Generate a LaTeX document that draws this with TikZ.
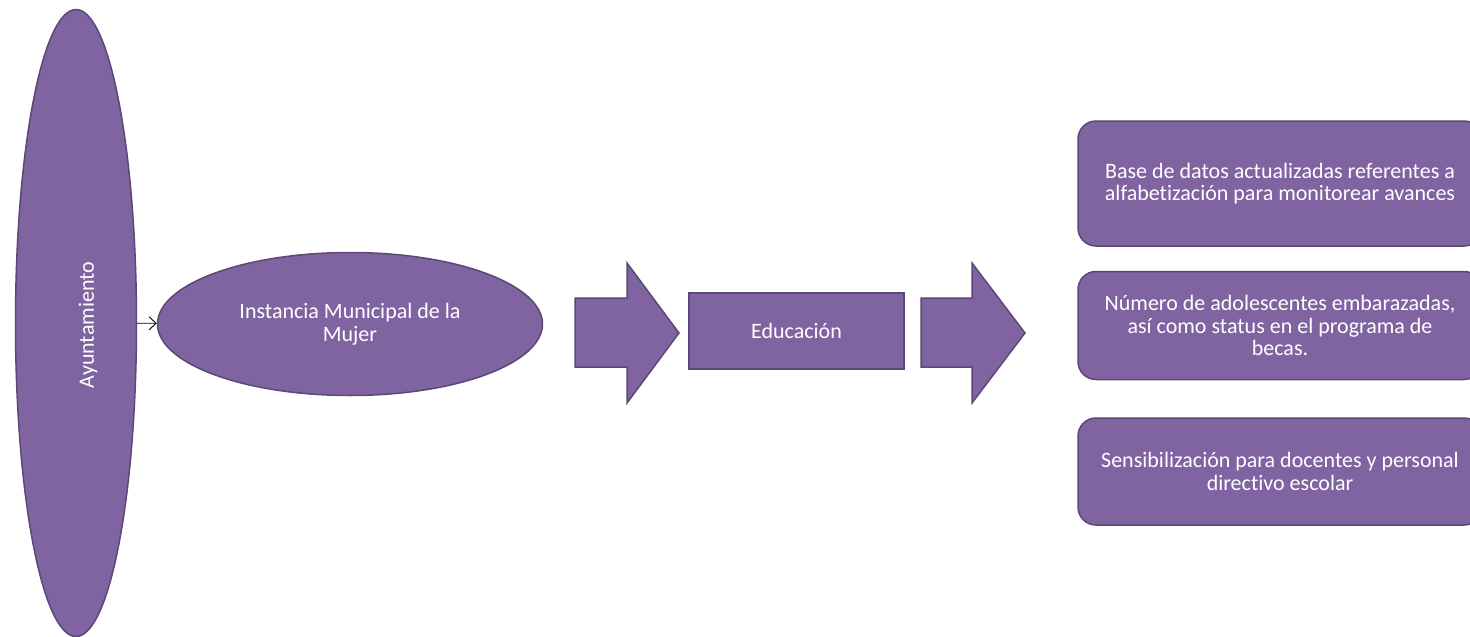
\documentclass[tikz,border=0pt]{standalone}
\usepackage{fontspec}
\setmainfont{Carlito}[Ligatures=NoCommon]
\usetikzlibrary{shapes,arrows.meta,positioning}
\definecolor{violeta}{HTML}{8064A2}
\definecolor{violetaosc}{HTML}{5C4776}

\begin{document}
\begin{tikzpicture}[x=1pt, y=-1pt, align=center, node distance=24pt, font=\fontsize{22}{22.5}\selectfont]
    \tikzset{
        base/.style     =   { fill=violeta
                            , draw=violetaosc
                            , line width=1.5pt
                            , text=white
                            , inner sep=0pt
        }
        , oval/.style   =   { base
                            , ellipse
        }
        , caja/.style   =   { base
                            , rectangle
                            , minimum width=215pt
                            , minimum height=76pt
        }
        , meta/.style   =   { base
                            , rectangle
                            , rounded corners=18pt
                            , minimum width=404pt
        }
        , link/.style   =   { -{Straight Barb[length=7pt, width=13pt]}
                            , black
                            , line width=0.9pt
        }
    }
    \useasboundingbox (0,0) rectangle (1470,637);

    \node(ayto)[oval, minimum width=121pt, minimum height=627pt] at (76,323) {};
    \node(aytotxt)[text=white, rotate=90] at (88,325) {Ayuntamiento};
    \node(imm)[oval, minimum width=385pt, minimum height=143pt] at (350,324) {Instancia Municipal de la\\Mujer};
    \node(edu)[caja] at (796.5,331) {Educación};

    % flechas de bloque
    \draw[base] (575,298) -- (627,298) -- (627,263) -- (679,333) -- (627,403) -- (627,367) -- (575,367) -- cycle;
    \draw[base] (921,298) -- (972,298) -- (972,263) -- (1025,333) -- (972,403) -- (972,367) -- (921,367) -- cycle;

    \node(bd)[meta, minimum height=125pt] at (1280,183.5) {Base de datos actualizadas referentes a\\alfabetización para monitorear avances};
    \node(emb)[meta, minimum height=108pt, below=of bd] {Número de adolescentes embarazadas,\\así como status en el programa de\\becas.};
    \node(sens)[meta, minimum height=107pt, below=37pt of emb] {Sensibilización para docentes y personal\\directivo escolar};

    \draw[link] (ayto) -- (imm);
\end{tikzpicture}
\end{document}
